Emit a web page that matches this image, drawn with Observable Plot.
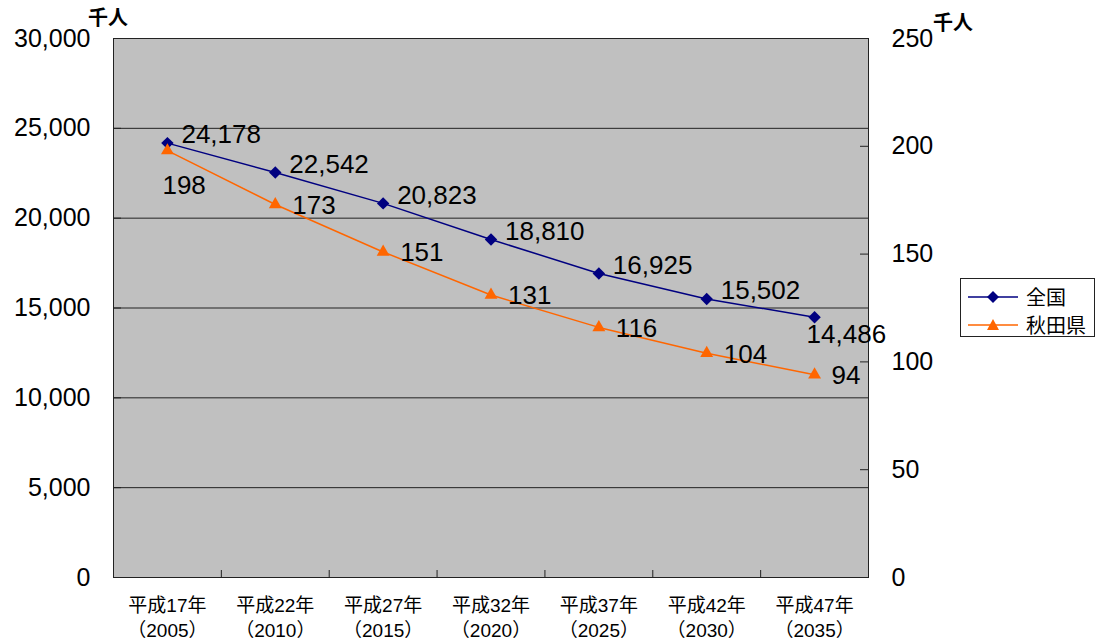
<!DOCTYPE html>
<html><head><meta charset="utf-8">
<script src="https://cdn.jsdelivr.net/npm/d3@7"></script>
<script src="https://cdn.jsdelivr.net/npm/@observablehq/plot@0.6"></script>
<style>
body{margin:0;background:#fff;font-family:"Liberation Sans","Noto Sans CJK JP",sans-serif;}
#wrap{position:relative;width:1098px;height:643px;overflow:hidden;}
#wrap > svg{position:absolute;left:0;top:0;}
.unit{position:absolute;font-size:20px;font-weight:bold;font-family:"Noto Sans CJK JP",sans-serif;line-height:1;}
#legend{position:absolute;left:960px;top:278px;width:133px;height:57px;border:1px solid #222;background:#fff;}
#legend .row{position:absolute;left:6px;height:24px;display:flex;align-items:center;}
#legend .row span{font-family:"Noto Sans CJK JP",sans-serif;font-size:20px;margin-left:7px;line-height:1;}
</style></head><body>
<div id="wrap"></div>
<script>
const categories = ["平成17年\n（2005）","平成22年\n（2010）","平成27年\n（2015）","平成32年\n（2020）","平成37年\n（2025）","平成42年\n（2030）","平成47年\n（2035）"];
const zenkoku = [24178, 22542, 20823, 18810, 16925, 15502, 14486];
const akita = [198, 173, 151, 131, 116, 104, 94];
const leftTicks = [0, 5000, 10000, 15000, 20000, 25000, 30000];
const rightTicks = [0, 50, 100, 150, 200, 250];
const seriesNames = ["全国", "秋田県"];
const seriesColors = ["#000080", "#FF6600"];
const unitLabel = "千人";

const W = 1098, H = 643, ML = 113, MR = 230, MT = 38, MB = 66;
const plotW = W - ML - MR, plotH = H - MT - MB;
const idx = categories.map((_, i) => i);
const bounds = idx.slice(1).map(i => i - 0.5);
const xDomain = [-0.5, categories.length - 0.5];
const last = categories.length - 1;
const fmt = d3.format(",");
const national = zenkoku.map((v, i) => ({i, v}));
const pref = akita.map((v, i) => ({i, v}));
const font = "'Liberation Sans','Noto Sans CJK JP',sans-serif";

const common = {
  width: W, height: H, marginLeft: ML, marginRight: MR, marginTop: MT, marginBottom: MB,
  style: {fontFamily: font, background: "transparent", color: "#000", overflow: "visible"}
};

const base = Plot.plot({
  ...common,
  x: {type: "linear", domain: xDomain, label: null},
  y: {domain: [0, 30000], label: null},
  marks: [
    Plot.frame({fill: "#c0c0c0", stroke: null}),
    Plot.gridY(leftTicks, {stroke: "#222", strokeOpacity: 1, strokeWidth: 1}),
    Plot.tickY(leftTicks, {y: d => d, stroke: "#222", insetRight: plotW - 8}),
    Plot.tickX(bounds, {x: d => d, stroke: "#222", insetTop: plotH - 7}),
    Plot.frame({stroke: "#222", fill: null}),
    Plot.axisY(leftTicks, {label: null, tickSize: 0, tickPadding: 23, tickFormat: fmt, fontSize: 25}),
    Plot.axisX(idx, {label: null, tickSize: 0, tickPadding: 17, tickFormat: i => categories[i], fontSize: 19, lineHeight: 1.3, fontFamily: font}),
    Plot.line(national, {x: "i", y: "v", stroke: seriesColors[0], strokeWidth: 1.5}),
    Plot.dot(national, {x: "i", y: "v", symbol: "diamond2", r: 5.6, fill: seriesColors[0], stroke: null}),
    Plot.text(national, {filter: d => d.i < last, x: "i", y: "v", text: d => fmt(d.v), textAnchor: "start", dx: 14, dy: -8, fontSize: 26}),
    Plot.text(national, {filter: d => d.i === last, x: "i", y: "v", text: d => fmt(d.v), textAnchor: "start", dx: -8, dy: 17, fontSize: 26})
  ]
});

const over = Plot.plot({
  ...common,
  x: {type: "linear", domain: xDomain, axis: null},
  y: {domain: [0, 250], label: null},
  marks: [
    Plot.tickY(rightTicks, {y: d => d, stroke: "#222", insetLeft: plotW - 8}),
    Plot.axisY(rightTicks, {anchor: "right", label: null, tickSize: 0, tickPadding: 23, fontSize: 25}),
    Plot.line(pref, {x: "i", y: "v", stroke: seriesColors[1], strokeWidth: 1.5}),
    Plot.dot(pref, {x: "i", y: "v", symbol: "triangle", r: 4.8, fill: seriesColors[1], stroke: null}),
    Plot.text(pref, {filter: d => d.i > 0, x: "i", y: "v", text: d => fmt(d.v), textAnchor: "start", dx: 17, dy: 1, fontSize: 26}),
    Plot.text(pref, {filter: d => d.i === 0, x: "i", y: "v", text: d => fmt(d.v), textAnchor: "start", dx: -5, dy: 35, fontSize: 26})
  ]
});

const wrap = document.getElementById("wrap");
wrap.appendChild(base);
wrap.appendChild(over);

const u1 = document.createElement("div");
u1.className = "unit"; u1.textContent = unitLabel; u1.style.left = "88px"; u1.style.top = "7px";
const u2 = document.createElement("div");
u2.className = "unit"; u2.textContent = unitLabel; u2.style.left = "933px"; u2.style.top = "12px";
wrap.appendChild(u1); wrap.appendChild(u2);

const legend = document.createElement("div");
legend.id = "legend";
const symbolsSvg = [
  `<svg width="52" height="16"><line x1="1" y1="8" x2="51" y2="8" stroke="${seriesColors[0]}" stroke-width="1.5"/><path d="M26,2 L32,8 L26,14 L20,8Z" fill="${seriesColors[0]}"/></svg>`,
  `<svg width="52" height="16"><line x1="1" y1="8" x2="51" y2="8" stroke="${seriesColors[1]}" stroke-width="1.5"/><path d="M26,2 L32,13 L20,13Z" fill="${seriesColors[1]}"/></svg>`
];
seriesNames.forEach((name, k) => {
  const row = document.createElement("div");
  row.className = "row";
  row.style.top = (6 + k * 28) + "px";
  row.innerHTML = symbolsSvg[k] + `<span>${name}</span>`;
  legend.appendChild(row);
});
wrap.appendChild(legend);
</script>
</body></html>
